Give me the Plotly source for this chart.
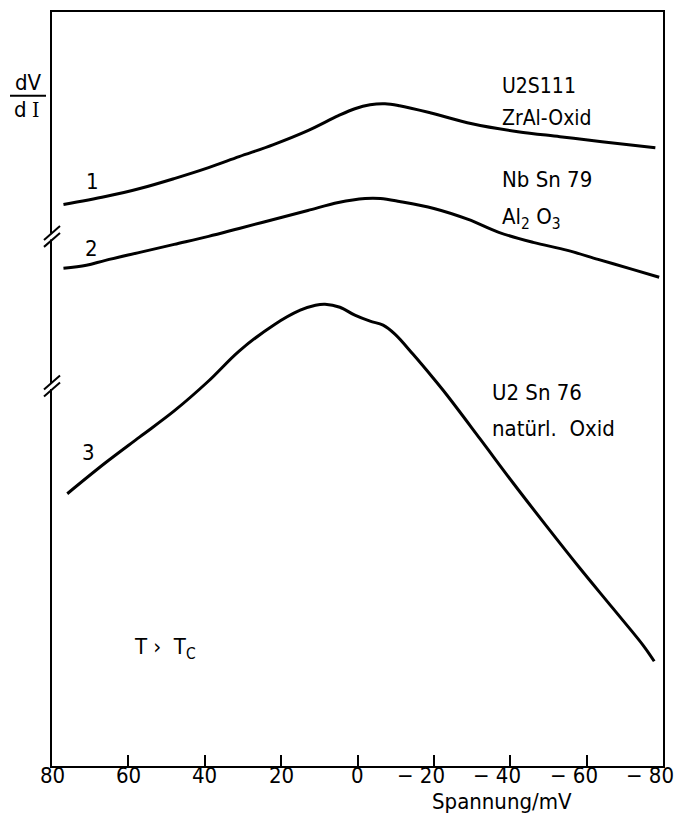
import plotly.graph_objects as go

# Bias voltage (mV) and differential resistance dV/dI (arbitrary units, offset per curve)
v1 = [77, 66, 57, 48, 39, 31, 22, 13, 5, 0.7, -3.3, -7.2, -11, -19, -30, -42, -53, -64, -78]
r1 = [563, 571, 579, 589, 600, 611, 623, 637, 652, 659, 663, 664, 662, 655, 644, 636, 631, 626, 620]

v2 = [77, 71, 66, 57, 48, 39, 31, 22, 13, 5, -2, -6, -11, -20, -29, -37, -46, -55, -63, -72, -79]
r2 = [499, 502, 507, 515, 523, 531, 539, 548, 557, 565, 569, 569, 566, 559, 548, 535, 525, 517, 508, 498, 490]

v3 = [76, 66, 57, 48, 39, 31, 22, 15, 11, 8.5, 4.6, 0.7, -3.3, -6.7, -9.8, -14.5, -19.8, -23.4,
      -32.1, -40.7, -49.6, -58.3, -66.9, -74.8, -77.7]
r3 = [273, 304, 330, 356, 386, 416, 442, 457, 462, 463, 460, 452, 446, 442, 433, 413, 389, 372,
      328, 284, 240, 198, 158, 121, 105]

tick_vals = [80, 60, 40, 20, 0, -20, -40, -60, -80]
tick_text = ["80", "60", "40", "20", "0", "\u2212 20", "\u2212 40", "\u2212 60", "\u2212 80"]

FONT = "DejaVu Sans Condensed, DejaVu Sans, sans-serif"
W, H = 676, 831
ML, MR, MT, MB = 52, 13, 10, 65
PW, PH = W - ML - MR, H - MT - MB


def px(x):
    return (x - ML) / PW


def py(y):
    return (H - MB - y) / PH


fig = go.Figure()
for v, r in [(v1, r1), (v2, r2), (v3, r3)]:
    fig.add_trace(go.Scatter(x=v, y=r, mode="lines",
                             line=dict(color="black", width=3, shape="spline", smoothing=1.0),
                             hoverinfo="skip", showlegend=False))

texts = [
    ("U2S111", 500, 84, 21),
    ("ZrAl-Oxid", 500, 116, 21),
    ("Nb Sn 79", 500, 178, 22),
    ("Al<sub>2</sub> O<sub>3</sub>", 500, 217, 22),
    ("U2 Sn 76", 490, 392, 22),
    ("natürl.  Oxid", 490, 428, 22),
    ("1", 84, 180, 22),
    ("2", 83, 247, 22),
    ("3", 80, 452, 22),
    ("T \u203a  T<sub>C</sub>", 132, 648, 22),
]
ann = []
for t, x, y, s in texts:
    ann.append(dict(text=t, x=px(x), y=py(y), xref="paper", yref="paper",
                    xanchor="left", yanchor="middle", showarrow=False,
                    font=dict(family=FONT, size=s, color="black")))

# tick labels: digits centred on the tick, minus sign hanging to the left
for v, t in zip(tick_vals, tick_text):
    neg = v < 0
    ann.append(dict(text=t, x=v, y=py(776), xref="x", yref="paper",
                    xanchor="right" if neg else "center", xshift=13 if neg else 0,
                    yanchor="middle", showarrow=False,
                    font=dict(family=FONT, size=22, color="black")))

# y-axis label as a fraction dV / dI (serif capital I)
ann.append(dict(text="dV", x=px(28), y=py(81), xref="paper", yref="paper",
                xanchor="center", yanchor="middle", showarrow=False,
                font=dict(family=FONT, size=22, color="black")))
ann.append(dict(text="d", x=px(29), y=py(108), xref="paper", yref="paper",
                xanchor="right", yanchor="middle", showarrow=False,
                font=dict(family=FONT, size=22, color="black")))
ann.append(dict(text="I", x=px(30), y=py(108), xref="paper", yref="paper",
                xanchor="left", yanchor="middle", showarrow=False,
                font=dict(family="DejaVu Serif Condensed, DejaVu Serif, serif", size=21,
                          color="black")))
# x-axis title
ann.append(dict(text="Spannung/mV", x=px(502), y=py(802), xref="paper", yref="paper",
                xanchor="center", yanchor="middle", showarrow=False,
                font=dict(family=FONT, size=22, color="black")))

shapes = [dict(type="line", xref="paper", yref="paper", x0=px(10), x1=px(46),
               y0=py(94), y1=py(94), line=dict(color="black", width=2))]

# axis break marks on the left axis
for yb in (235, 385):
    shapes.append(dict(type="line", xref="paper", yref="paper", x0=px(ML), x1=px(ML),
                       y0=py(yb - 3), y1=py(yb + 3), line=dict(color="white", width=5),
                       layer="above"))
    for off in (-3.5, 3.5):
        shapes.append(dict(type="line", xref="paper", yref="paper",
                           x0=px(ML - 8), x1=px(ML + 8),
                           y0=py(yb + 7 + off), y1=py(yb - 7 + off),
                           line=dict(color="black", width=2), layer="above"))

fig.update_layout(
    width=W, height=H, margin=dict(l=ML, r=MR, t=MT, b=MB),
    paper_bgcolor="white", plot_bgcolor="white",
    annotations=ann, shapes=shapes,
    xaxis=dict(range=[80, -80], tickvals=tick_vals, showticklabels=False,
               ticks="inside", ticklen=11, tickwidth=2, tickcolor="black",
               showline=True, linecolor="black", linewidth=2, mirror=True,
               showgrid=False, zeroline=False),
    yaxis=dict(range=[0, PH], showticklabels=False, ticks="",
               showline=True, linecolor="black", linewidth=2, mirror=True,
               showgrid=False, zeroline=False),
)

fig.write_html("out.html")
